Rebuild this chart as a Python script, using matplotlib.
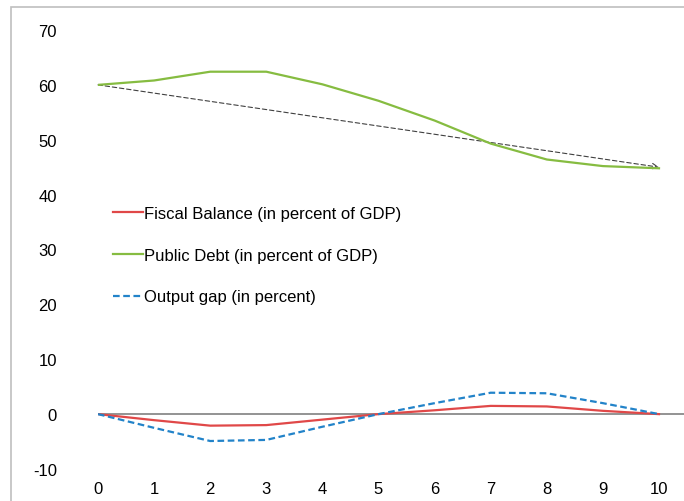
import matplotlib.pyplot as plt
from matplotlib.patches import Rectangle

plt.rcParams['font.family'] = ['Liberation Sans', 'DejaVu Sans']
plt.rcParams['axes.unicode_minus'] = False

years = list(range(11))
fiscal_balance = [0, -1.1, -2.1, -2.0, -1.0, 0, 0.7, 1.5, 1.4, 0.6, 0]
public_debt = [60, 60.8, 62.4, 62.4, 60.1, 57.1, 53.5, 49.3, 46.4, 45.2, 44.8]
output_gap = [0, -2.5, -4.9, -4.7, -2.3, 0, 2.0, 3.9, 3.8, 2.0, 0]
debt_trend_start = (0, 60)
debt_trend_end = (10, 45)

yticks = [-10, 0, 10, 20, 30, 40, 50, 60, 70]

fig = plt.figure(figsize=(6.84, 5.02), dpi=100)
ax = fig.add_axes([98 / 684, 32 / 502, 1 - 98 / 684, 439 / 502])

# light frame around the whole chart area
fig.patches.append(Rectangle((11 / 684, -0.05), 1.1, 0.05 + 494 / 502,
                             transform=fig.transFigure, fill=False,
                             edgecolor='#BFBFBF', linewidth=1.2))

ax.axhline(0, color='#808080', linewidth=1.2, zorder=1)

ax.plot(years, fiscal_balance, color='#E04848', linewidth=1.6,
        label='Fiscal Balance (in percent of GDP)', zorder=3)
ax.plot(years, public_debt, color='#86BC41', linewidth=1.6,
        label='Public Debt (in percent of GDP)', zorder=3)
ax.plot(years, output_gap, color='#2283C9', linewidth=1.6, linestyle=(0, (3, 1.6)),
        label='Output gap (in percent)', zorder=3)

ax.annotate('', xy=debt_trend_end, xytext=debt_trend_start,
            arrowprops=dict(arrowstyle='->', linestyle=(0, (4, 2.5)),
                            color='#404040', lw=0.8, shrinkA=0, shrinkB=0,
                            mutation_scale=10), zorder=2)

ax.set_xlim(0, 586 / 56.1)
ax.set_ylim(-10, 70)
ax.set_xticks(years)
ax.set_yticks(yticks)
ax.tick_params(axis='both', length=0, labelsize=12, colors='black')
ax.tick_params(axis='y', pad=29.5)
ax.tick_params(axis='x', pad=9)
for side in ax.spines.values():
    side.set_visible(False)

ax.legend(loc='upper left', bbox_to_anchor=(113 / 684, 1 - 207 / 502),
          bbox_transform=fig.transFigure, frameon=False, fontsize=12,
          handlelength=1.8, handletextpad=0.05, labelspacing=1.6,
          borderaxespad=0, borderpad=0)

fig.savefig('out.png', dpi=100)
